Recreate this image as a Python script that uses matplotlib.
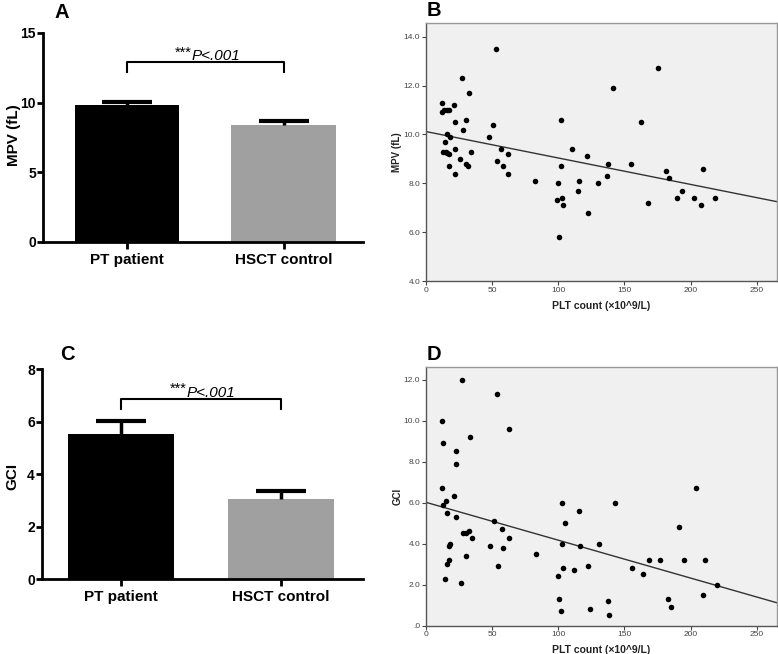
import matplotlib
matplotlib.use("Agg")
import matplotlib.pyplot as plt

plt.rcParams['font.family'] = ['Liberation Sans', 'DejaVu Sans']

groups = ["PT patient", "HSCT control"]
bar_colors = ["#000000", "#a0a0a0"]

mpv_means = [9.8, 8.4]
mpv_err = [0.25, 0.3]
gci_means = [5.55, 3.05]
gci_err = [0.48, 0.33]

# panel B: PLT count vs MPV
b_plt = [12.1, 12.1, 13.8, 15.9, 17.9, 21.1, 27.2, 33.0, 22.4, 30.2, 28.2, 16.4,
         18.4, 14.4, 12.8, 15.4, 16.4, 17.9, 22.4, 25.9, 30.5, 32.2, 34.0, 17.4,
         22.4, 47.8, 51.1, 53.1, 57.1, 54.1, 58.2, 61.9, 62.2, 82.8, 100.0, 98.9,
         102.0, 102.0, 103.0, 104.0, 101.0, 110.8, 114.8, 115.8, 121.9, 122.9,
         129.9, 136.7, 137.7, 141.7, 154.8, 162.6, 167.7, 175.7, 181.5, 183.5,
         189.6, 193.6, 202.4, 207.5, 209.5, 218.5]
b_mpv = [11.3, 10.9, 11.0, 11.0, 11.0, 11.2, 12.3, 11.7, 10.5, 10.6, 10.2, 10.0,
         9.9, 9.7, 9.3, 9.3, 9.25, 9.2, 9.4, 9.0, 8.8, 8.7, 9.3, 8.7,
         8.4, 9.9, 10.4, 13.5, 9.4, 8.9, 8.7, 9.2, 8.4, 8.1, 8.0, 7.3,
         10.6, 8.7, 7.4, 7.1, 5.8, 9.4, 7.7, 8.1, 9.1, 6.8,
         8.0, 8.3, 8.8, 11.9, 8.8, 10.5, 7.2, 12.7, 8.5, 8.2,
         7.4, 7.7, 7.4, 7.1, 8.6, 7.4]
b_fit = [10.12, 7.25]

# panel D: PLT count vs GCI
d_plt = [12.6, 13.3, 12.6, 13.3, 15.6, 16.4, 17.4, 18.4, 17.4, 16.4, 14.6, 21.4,
         22.7, 22.7, 22.7, 27.4, 26.4, 28.4, 30.5, 32.5, 34.7, 30.5, 33.5, 48.3,
         51.6, 53.6, 54.6, 57.7, 58.7, 62.7, 62.7, 83.6, 99.7, 101.0, 102.0, 103.0,
         103.0, 104.0, 105.0, 111.8, 115.8, 116.8, 122.9, 123.9, 130.9, 137.7,
         138.7, 143.0, 155.8, 163.9, 168.9, 177.0, 183.0, 185.0, 191.0, 195.0,
         204.0, 209.0, 211.0, 220.0]
d_gci = [10.0, 8.9, 6.7, 5.9, 6.1, 5.5, 3.9, 4.0, 3.2, 3.0, 2.3, 6.3,
         8.5, 7.9, 5.3, 12.0, 2.1, 4.5, 4.5, 4.6, 4.3, 3.4, 9.2, 3.9,
         5.1, 11.3, 2.9, 4.7, 3.8, 9.6, 4.3, 3.5, 2.4, 1.3, 0.7, 6.0,
         4.0, 2.8, 5.0, 2.7, 5.6, 3.9, 2.9, 0.8, 4.0, 1.2,
         0.5, 6.0, 2.8, 2.5, 3.2, 3.2, 1.3, 0.9, 4.8, 3.2,
         6.7, 1.5, 3.2, 2.0]
d_fit = [6.02, 1.12]

fit_x = [0, 265]


def bar_panel(ax, means, errs, ylim, yticks, ylabel, bracket_y, bracket_drop, xl, label_y):
    x = [0, 1]
    ax.bar(x, means, width=0.665, color=bar_colors, edgecolor="none", zorder=2)
    for xi, m, e in zip(x, means, errs):
        _, caps, _ = ax.errorbar(xi, m, yerr=[[0], [e]], color="black", capsize=18,
                                 capthick=3, elinewidth=2.5, zorder=3)
        caps[0].set_visible(False)  # only the upper cap, like Prism
    ax.plot([0, 0, 1, 1], [bracket_y - bracket_drop, bracket_y, bracket_y, bracket_y - bracket_drop],
            color="black", lw=1.5, zorder=3)
    ax.text(0.41, bracket_y + 0.012 * ylim[1], "***", ha="right", va="bottom", fontsize=10.5)
    ax.text(0.41, bracket_y - 0.005 * ylim[1], "P<.001", ha="left", va="bottom", fontsize=11,
            style="italic")
    ax.set_xlim(xl)
    ax.set_ylim(ylim)
    ax.set_yticks(yticks)
    ax.set_xticks(x)
    ax.set_xticklabels(groups, fontsize=11, fontweight="bold")
    ax.set_ylabel(ylabel, fontsize=11, fontweight="bold")
    ax.yaxis.set_label_coords(-0.068, label_y)
    for lab in ax.get_yticklabels():
        lab.set_fontweight("bold")
        lab.set_fontsize(10)
    ax.spines["top"].set_visible(False)
    ax.spines["right"].set_visible(False)
    ax.spines["left"].set_linewidth(2)
    ax.spines["bottom"].set_linewidth(2)
    ax.tick_params(axis="y", width=2, length=4, pad=1)
    ax.tick_params(axis="x", width=2, length=5, pad=3)


def scatter_panel(ax, xs, ys, fit, ylim, yticks, ylabel):
    ax.set_facecolor("#f0f0f0")
    ax.scatter(xs, ys, s=16, color="black", zorder=3, linewidths=0)
    ax.plot(fit_x, fit, color="#333333", lw=1.0, zorder=2)
    ax.set_xlim(0, 265)
    ax.set_ylim(ylim)
    ax.set_xticks([0, 50, 100, 150, 200, 250])
    ax.set_yticks(yticks)
    ax.set_yticklabels([f"{t:.1f}" if t != 0 else ".0" for t in yticks])
    ax.tick_params(axis="both", labelsize=6, colors="#444444", length=3, width=0.8, pad=1)
    ax.set_xlabel("PLT count (\u00d710^9/L)", fontsize=7.5, fontweight="bold", color="#222222", labelpad=5)
    ax.set_ylabel(ylabel, fontsize=7, fontweight="bold", color="#222222", labelpad=1)
    for s in ["left", "bottom"]:
        ax.spines[s].set_color("#555555")
        ax.spines[s].set_linewidth(1.0)
    for s in ["top", "right"]:
        ax.spines[s].set_color("#999999")
        ax.spines[s].set_linewidth(1.0)


fig = plt.figure(figsize=(7.78, 6.54), dpi=100)

ax_a = fig.add_axes([0.0553, 0.63, 0.4113, 0.3196])
bar_panel(ax_a, mpv_means, mpv_err, (0, 15), [0, 5, 10, 15], "MPV (fL)", 12.9, 0.7,
          (-0.537, 1.508), 0.51)

ax_c = fig.add_axes([0.0536, 0.1142, 0.4126, 0.3211])
bar_panel(ax_c, gci_means, gci_err, (0, 8), [0, 2, 4, 6, 8], "GCI", 6.88, 0.4,
          (-0.496, 1.51), 0.49)

ax_b = fig.add_axes([0.5472, 0.5703, 0.4511, 0.3945])
scatter_panel(ax_b, b_plt, b_mpv, b_fit, (4, 14.56), [4, 6, 8, 10, 12, 14], "MPV (fL)")

ax_d = fig.add_axes([0.5472, 0.0433, 0.4511, 0.3960])
scatter_panel(ax_d, d_plt, d_gci, d_fit, (0, 12.63), [0, 2, 4, 6, 8, 10, 12], "GCI")

for lbl, x, y in [("A", 62, 13), ("B", 434, 11), ("C", 67, 355), ("D", 434, 354)]:
    fig.text(x / 778, 1 - y / 654, lbl, fontsize=14.5, fontweight="bold", ha="center", va="center")

fig.savefig("out.png", dpi=100)
